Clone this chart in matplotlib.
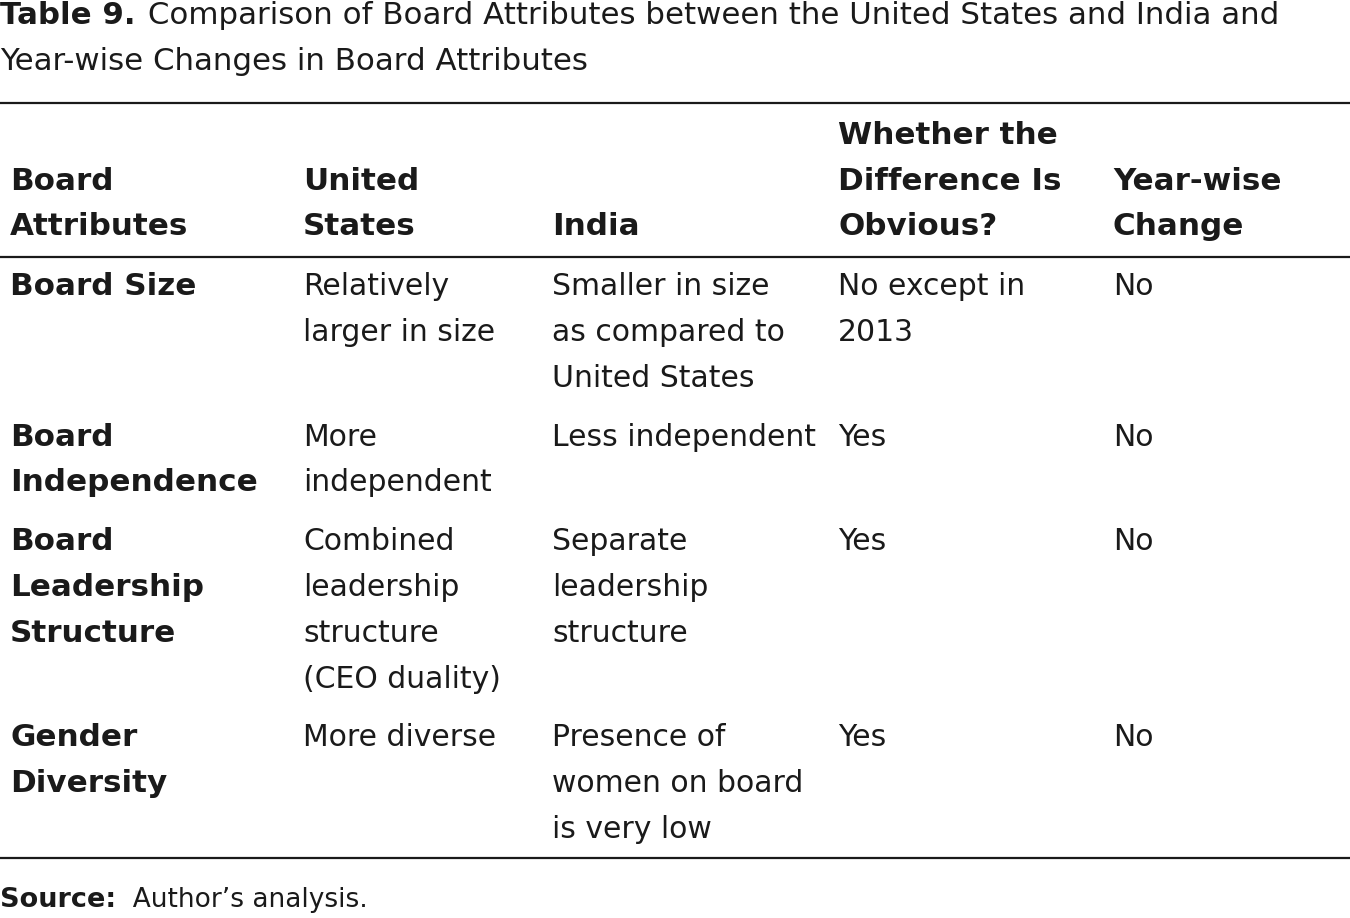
import matplotlib
matplotlib.use("Agg")
import matplotlib.pyplot as plt
from matplotlib.lines import Line2D

W, H = 1350, 918
FONT = "DejaVu Sans"
FS = 21.5
FSB = 22.3
FST = 22.2
FSS = 19.0

title_bold = "Table 9."
title_rest = [" Comparison of Board Attributes between the United States and India and",
              "Year-wise Changes in Board Attributes"]
headers = ["Board\nAttributes", "United\nStates", "India",
           "Whether the\nDifference Is\nObvious?", "Year-wise\nChange"]
attributes = ["Board Size", "Board\nIndependence", "Board\nLeadership\nStructure",
              "Gender\nDiversity"]
united_states = ["Relatively\nlarger in size", "More\nindependent",
                 "Combined\nleadership\nstructure\n(CEO duality)", "More diverse"]
india = ["Smaller in size\nas compared to\nUnited States", "Less independent",
         "Separate\nleadership\nstructure", "Presence of\nwomen on board\nis very low"]
obvious = ["No except in\n2013", "Yes", "Yes", "Yes"]
year_change = ["No", "No", "No", "No"]
source_bold = "Source:"
source_rest = "  Author\u2019s analysis."

col_x = [10, 303, 552, 838, 1113]
row_y = [287, 437, 542, 738]
LS = 45.7

fig = plt.figure(figsize=(W / 100, H / 100), dpi=100)
fig.patch.set_facecolor("white")

def fx(x):
    return x / W

def fy(y):
    return 1 - y / H

def txt(x, y, s, bold=False, size=None, **kw):
    if size is None:
        size = FSB if bold else FS
    return fig.text(fx(x), fy(y), s, fontsize=size, family=FONT,
                    fontweight="bold" if bold else "normal",
                    ha="left", va="center", color="#1a1a1a", **kw)

renderer = fig.canvas.get_renderer()
t = txt(0, 16, title_bold, bold=True, size=FST)
bb = t.get_window_extent(renderer)
txt(bb.x1 + 2, 16, title_rest[0], size=FST)
txt(0, 61, title_rest[1], size=FST)

for y in [103, 257, 858]:
    fig.add_artist(Line2D([0, 1], [fy(y), fy(y)], color="#1a1a1a", lw=1.6))

for x, h in zip(col_x, headers):
    lines = h.split("\n")
    n = len(lines)
    for i, ln in enumerate(lines):
        txt(x, 227 - (n - 1 - i) * LS, ln, bold=True)

cols = [attributes, united_states, india, obvious, year_change]
for ci, col in enumerate(cols):
    for ri, cell in enumerate(col):
        for li, ln in enumerate(cell.split("\n")):
            txt(col_x[ci], row_y[ri] + li * LS, ln, bold=(ci == 0))

s = txt(0, 900, source_bold, bold=True, size=FSS + 0.5)
bb = s.get_window_extent(renderer)
txt(bb.x1, 900, source_rest, size=FSS)

fig.savefig("out.png", dpi=100, facecolor="white")
